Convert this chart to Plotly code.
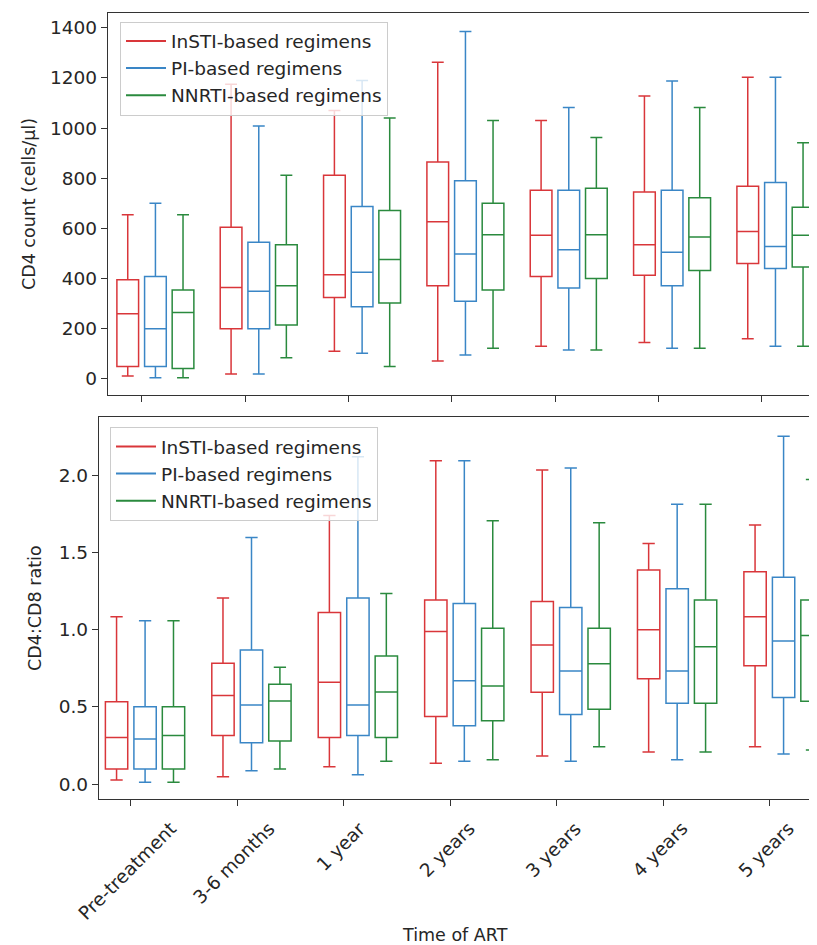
import plotly.graph_objects as go

# ---------------- data ----------------
categories = ["Pre-treatment", "3-6 months", "1 year", "2 years", "3 years", "4 years", "5 years"]
regimens = ["InSTI-based regimens", "PI-based regimens", "NNRTI-based regimens"]
colors = ["#d9363a", "#3a86c6", "#2a8a3e"]

# (lower whisker, Q1, median, Q3, upper whisker) per category
cd4_insti = [(12, 50, 260, 395, 655), (20, 200, 365, 605, 1175), (110, 325, 415, 812, 1070),
             (72, 372, 627, 865, 1263), (130, 408, 573, 752, 1030), (145, 413, 535, 745, 1128),
             (160, 460, 588, 768, 1203)]
cd4_pi = [(5, 50, 200, 408, 700), (20, 200, 350, 545, 1008), (102, 288, 425, 688, 1190),
          (95, 310, 498, 790, 1385), (115, 363, 515, 752, 1082), (122, 372, 505, 752, 1188),
          (130, 440, 528, 783, 1203)]
cd4_nnrti = [(5, 42, 265, 355, 655), (85, 215, 372, 535, 812), (50, 303, 476, 672, 1040),
             (122, 355, 575, 700, 1030), (115, 400, 575, 760, 963), (122, 432, 566, 722, 1082),
             (130, 446, 573, 685, 942)]

ratio_insti = [(0.026, 0.097, 0.302, 0.533, 1.084), (0.047, 0.315, 0.574, 0.782, 1.205),
               (0.112, 0.302, 0.659, 1.112, 1.74), (0.134, 0.438, 0.989, 1.192, 2.094),
               (0.181, 0.594, 0.90, 1.183, 2.034), (0.207, 0.682, 0.999, 1.386, 1.559),
               (0.242, 0.766, 1.084, 1.375, 1.679)]
ratio_pi = [(0.011, 0.097, 0.291, 0.50, 1.058), (0.086, 0.268, 0.512, 0.868, 1.598),
            (0.060, 0.315, 0.512, 1.205, 2.12), (0.147, 0.378, 0.669, 1.170, 2.094),
            (0.147, 0.451, 0.732, 1.144, 2.047), (0.157, 0.523, 0.732, 1.265, 1.813),
            (0.194, 0.561, 0.926, 1.339, 2.254)]
ratio_nnrti = [(0.011, 0.097, 0.315, 0.50, 1.058), (0.097, 0.278, 0.538, 0.646, 0.756),
               (0.147, 0.302, 0.596, 0.829, 1.235), (0.157, 0.41, 0.635, 1.010, 1.705),
               (0.242, 0.484, 0.779, 1.010, 1.692), (0.207, 0.523, 0.889, 1.192, 1.813),
               (0.220, 0.536, 0.963, 1.192, 1.973)]

cd4_ticks = [0, 200, 400, 600, 800, 1000, 1200, 1400]
ratio_ticks = [0.0, 0.5, 1.0, 1.5, 2.0]

# ---------------- layout params ----------------
PAD = 8                      # default page body margin
W, H = 817 - PAD, 945 - PAD
FONT = "DejaVu Sans"
TXT = "#262626"
AX = "#333333"
offsets = [-0.135, 0.133, 0.40]
box_w = 0.21
FS = 18.5

fig = go.Figure()

def add_boxes(series_list, xa, ya):
    for k, ser in enumerate(series_list):
        fig.add_trace(go.Box(
            x=[i + offsets[k] for i in range(len(categories))],
            lowerfence=[s[0] for s in ser],
            q1=[s[1] for s in ser],
            median=[s[2] for s in ser],
            q3=[s[3] for s in ser],
            upperfence=[s[4] for s in ser],
            orientation="v",
            width=box_w,
            whiskerwidth=0.55,
            line=dict(color=colors[k], width=1.5),
            fillcolor="rgba(0,0,0,0)",
            boxpoints=False,
            showlegend=False,
            hoverinfo="skip",
            xaxis=xa, yaxis=ya,
        ))

add_boxes([cd4_insti, cd4_pi, cd4_nnrti], "x", "y")
add_boxes([ratio_insti, ratio_pi, ratio_nnrti], "x2", "y2")

# legend entries (line samples)
for lg, xa, ya in [("legend", "x", "y"), ("legend2", "x2", "y2")]:
    for k, name in enumerate(regimens):
        fig.add_trace(go.Scatter(
            x=[None], y=[None], mode="lines", name=name,
            line=dict(color=colors[k], width=2),
            legend=lg, legendgroup=lg + str(k), xaxis=xa, yaxis=ya,
        ))

def px_y(p):
    return 1 - (p - PAD) / H

def px_x(p):
    return (p - PAD) / W

axis_common = dict(showline=True, linecolor=AX, linewidth=1.3, ticks="outside",
                   ticklen=6, tickwidth=1.2, tickcolor=AX, showgrid=False, zeroline=False,
                   tickfont=dict(family=FONT, size=FS, color=TXT))

legend_common = dict(bgcolor="rgba(255,255,255,0.8)", bordercolor="#cccccc", borderwidth=1,
                     font=dict(family=FONT, size=FS, color=TXT), tracegroupgap=0,
                     xanchor="left", yanchor="top", itemwidth=40)

fig.update_layout(
    width=W, height=H,
    margin=dict(l=0, r=0, t=0, b=0),
    paper_bgcolor="white", plot_bgcolor="white",
    font=dict(family=FONT, size=FS, color=TXT),
    xaxis=dict(domain=[px_x(108), 1], range=[-0.326, 6.535], tickvals=list(range(7)),
               showticklabels=False, mirror=True, anchor="y", **axis_common),
    yaxis=dict(domain=[px_y(395), px_y(13)], range=[-64, 1459], tickvals=cd4_ticks,
               anchor="x",
               title=dict(text="CD4 count (cells/µl)", standoff=9,
                          font=dict(family=FONT, size=17.5, color=TXT)), **axis_common),
    xaxis2=dict(domain=[px_x(99), 1], range=[-0.30, 6.447], tickvals=list(range(7)),
                showticklabels=False, mirror=True, anchor="y2", **axis_common),
    yaxis2=dict(domain=[px_y(799), px_y(417.3)], range=[-0.097, 2.376], tickvals=ratio_ticks,
                tickformat=".1f", anchor="x2",
                title=dict(text="CD4:CD8 ratio", standoff=12,
                           font=dict(family=FONT, size=17.5, color=TXT)), **axis_common),
    legend=dict(x=px_x(120), y=px_y(21.5), **legend_common),
    legend2=dict(x=px_x(110), y=px_y(427), **legend_common),
)

# rotated category labels (centered under ticks, like matplotlib)
for i, cat in enumerate(categories):
    fig.add_annotation(x=i, xref="x2", y=px_y(815), yref="paper", text=cat,
                       textangle=-45, showarrow=False, xanchor="center", yanchor="top",
                       xshift=-3, font=dict(family=FONT, size=FS, color=TXT))

fig.add_annotation(x=px_x(455), xref="paper", y=px_y(935), yref="paper", text="Time of ART",
                   showarrow=False, xanchor="center", yanchor="middle",
                   font=dict(family=FONT, size=17.5, color=TXT))

fig.write_html("out.html")
